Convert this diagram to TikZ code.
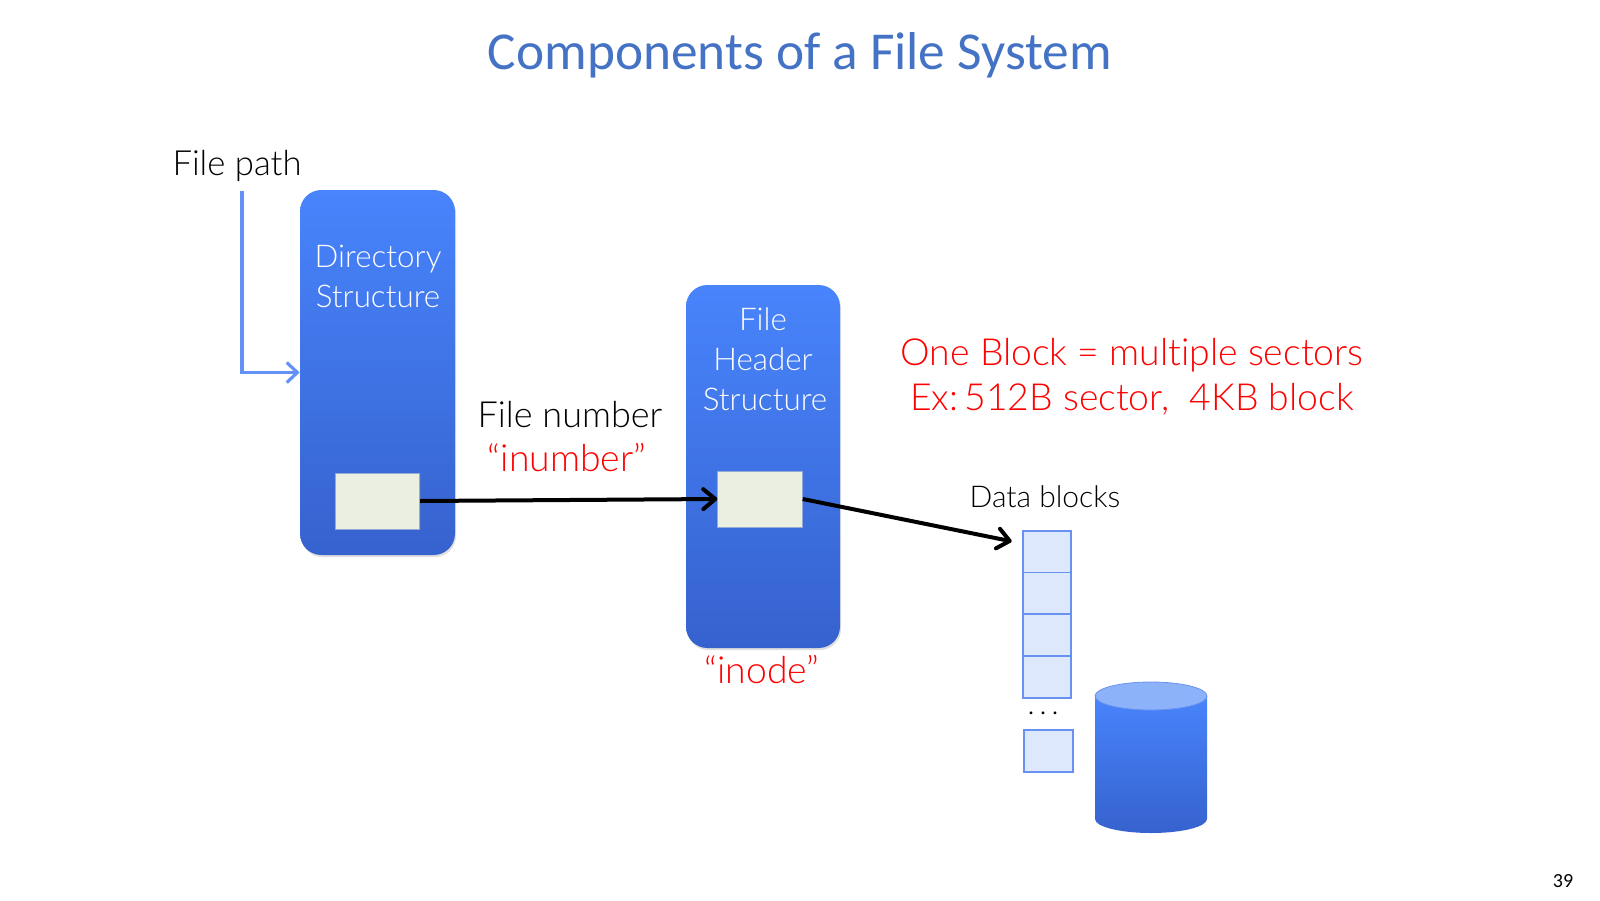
\documentclass[tikz,border=0pt]{standalone}
\usepackage{fontspec}
\setmainfont{Lato Light}[Ligatures={NoCommon}]
\newfontfamily\titlefont{Carlito}
\usetikzlibrary{arrows.meta,shadows}
\definecolor{titleblue}{RGB}{68,114,196}
\definecolor{boxtop}{RGB}{72,132,252}
\definecolor{boxbot}{RGB}{54,98,206}
\definecolor{cellfill}{RGB}{235,239,225}
\definecolor{cellline}{RGB}{150,170,215}
\definecolor{blockfill}{RGB}{222,232,252}
\definecolor{blockline}{RGB}{105,145,240}
\definecolor{pathblue}{RGB}{100,145,245}
\definecolor{capfill}{RGB}{140,178,250}
\definecolor{redtext}{RGB}{255,0,0}
\tikzset{
  bigbox/.style={rounded corners=16pt, top color=boxtop, bottom color=boxbot, draw=none,
    drop shadow={opacity=0.25, shadow xshift=0.8pt, shadow yshift=-1.6pt}},
  cell/.style={fill=cellfill, draw=cellline, line width=0.6pt, minimum width=63.5pt, minimum height=42pt,
    drop shadow={opacity=0.2, shadow xshift=0.6pt, shadow yshift=-1pt}},
  blk/.style={fill=blockfill, draw=blockline, line width=1pt, minimum width=36pt, minimum height=31.5pt, inner sep=0pt},
  boxlabel/.style={text=white, font=\fontsize{23.5}{28}\selectfont, anchor=base, inner sep=0pt},
  plain/.style={font=\fontsize{27}{32}\selectfont, anchor=base, inner sep=0pt},
  redlabel/.style={text=redtext, font=\fontsize{28}{34}\selectfont, anchor=base, inner sep=0pt},
  conn/.style={line width=3pt, -{Straight Barb[length=9pt, width=15pt, line cap=round, line join=round]}},
  patharrow/.style={draw=pathblue, line width=2.4pt, -{Straight Barb[length=8pt, width=15pt]}},
}
\begin{document}
\begin{tikzpicture}[x=0.75pt, y=-0.75pt]
\useasboundingbox (0,0) rectangle (1600,900);

% title and page number
\node[font=\titlefont\fontsize{40}{48}\selectfont, text=titleblue, anchor=base, inner sep=0pt] (title) at (800,69) {Components of a File System};
\node[font=\titlefont\fontsize{15}{18}\selectfont, anchor=base, inner sep=0pt] (pagenum) at (1563,887) {39};

% directory structure
\node[bigbox, minimum width=116.25pt, minimum height=273.75pt] (dir) at (377.5,372.5) {};
\node[boxlabel] (dirl1) at (378,267) {Directory};
\node[boxlabel] (dirl2) at (378,307) {Structure};
\node[cell] (dcell) at (377.5,501) {};

% file path
\node[plain, font=\fontsize{26}{31}\selectfont] (fpath) at (237,175) {File path};
\coordinate (fp) at (242,191);
\draw[patharrow] (fp) |- (dir.west);

% file header structure
\node[bigbox, minimum width=115.5pt, minimum height=272.25pt] (hdr) at (763,466.5) {};
\node[boxlabel] (hdrl1) at (763,330) {File};
\node[boxlabel] (hdrl2) at (763,370) {Header};
\node[boxlabel] (hdrl3) at (765,410) {Structure};
\node[cell] (hcell) at (760,499) {};
\node[redlabel] (inode) at (762,683) {“inode”};

% file number
\node[plain] (fnum) at (570,427) {File number};
\node[redlabel] (inum) at (567,471) {“inumber”};
\draw[conn] (dcell.east) -- (hcell.west);

% red note
\node[redlabel] (note1) at (1132,365) {One Block = multiple sectors};
\node[redlabel] (note2) at (1132,410) {Ex:\,512B sector,\ \ 4KB block};

% data blocks
\node[font=\fontsize{22.5}{27}\selectfont, anchor=base, inner sep=0pt] (dbl) at (1045,507) {Data blocks};
\node[blk] (b1) at (1047,552) {};
\node[blk] (b2) at (1047,593.5) {};
\node[blk] (b3) at (1047,635) {};
\node[blk] (b4) at (1047,677) {};
\node[font=\fontsize{22.5}{27}\selectfont, anchor=base, inner sep=0pt] (dots) at (1043,714) {.\,.\,.};
\node[blk, minimum width=36.75pt] (b5) at (1048.5,751) {};
\draw[conn] (hcell.east) -- ([xshift=-8pt, yshift=8pt]b1.west);

% disk cylinder
\shade[top color=boxtop, bottom color=boxbot] (1095,696) -- (1095,819) arc[start angle=180, end angle=360, x radius=42pt, y radius=10.5pt] -- (1207,696) -- cycle;
\filldraw[fill=capfill, draw=blockline, line width=0.6pt] (1151,696) ellipse [x radius=42pt, y radius=10.5pt];
\end{tikzpicture}
\end{document}
